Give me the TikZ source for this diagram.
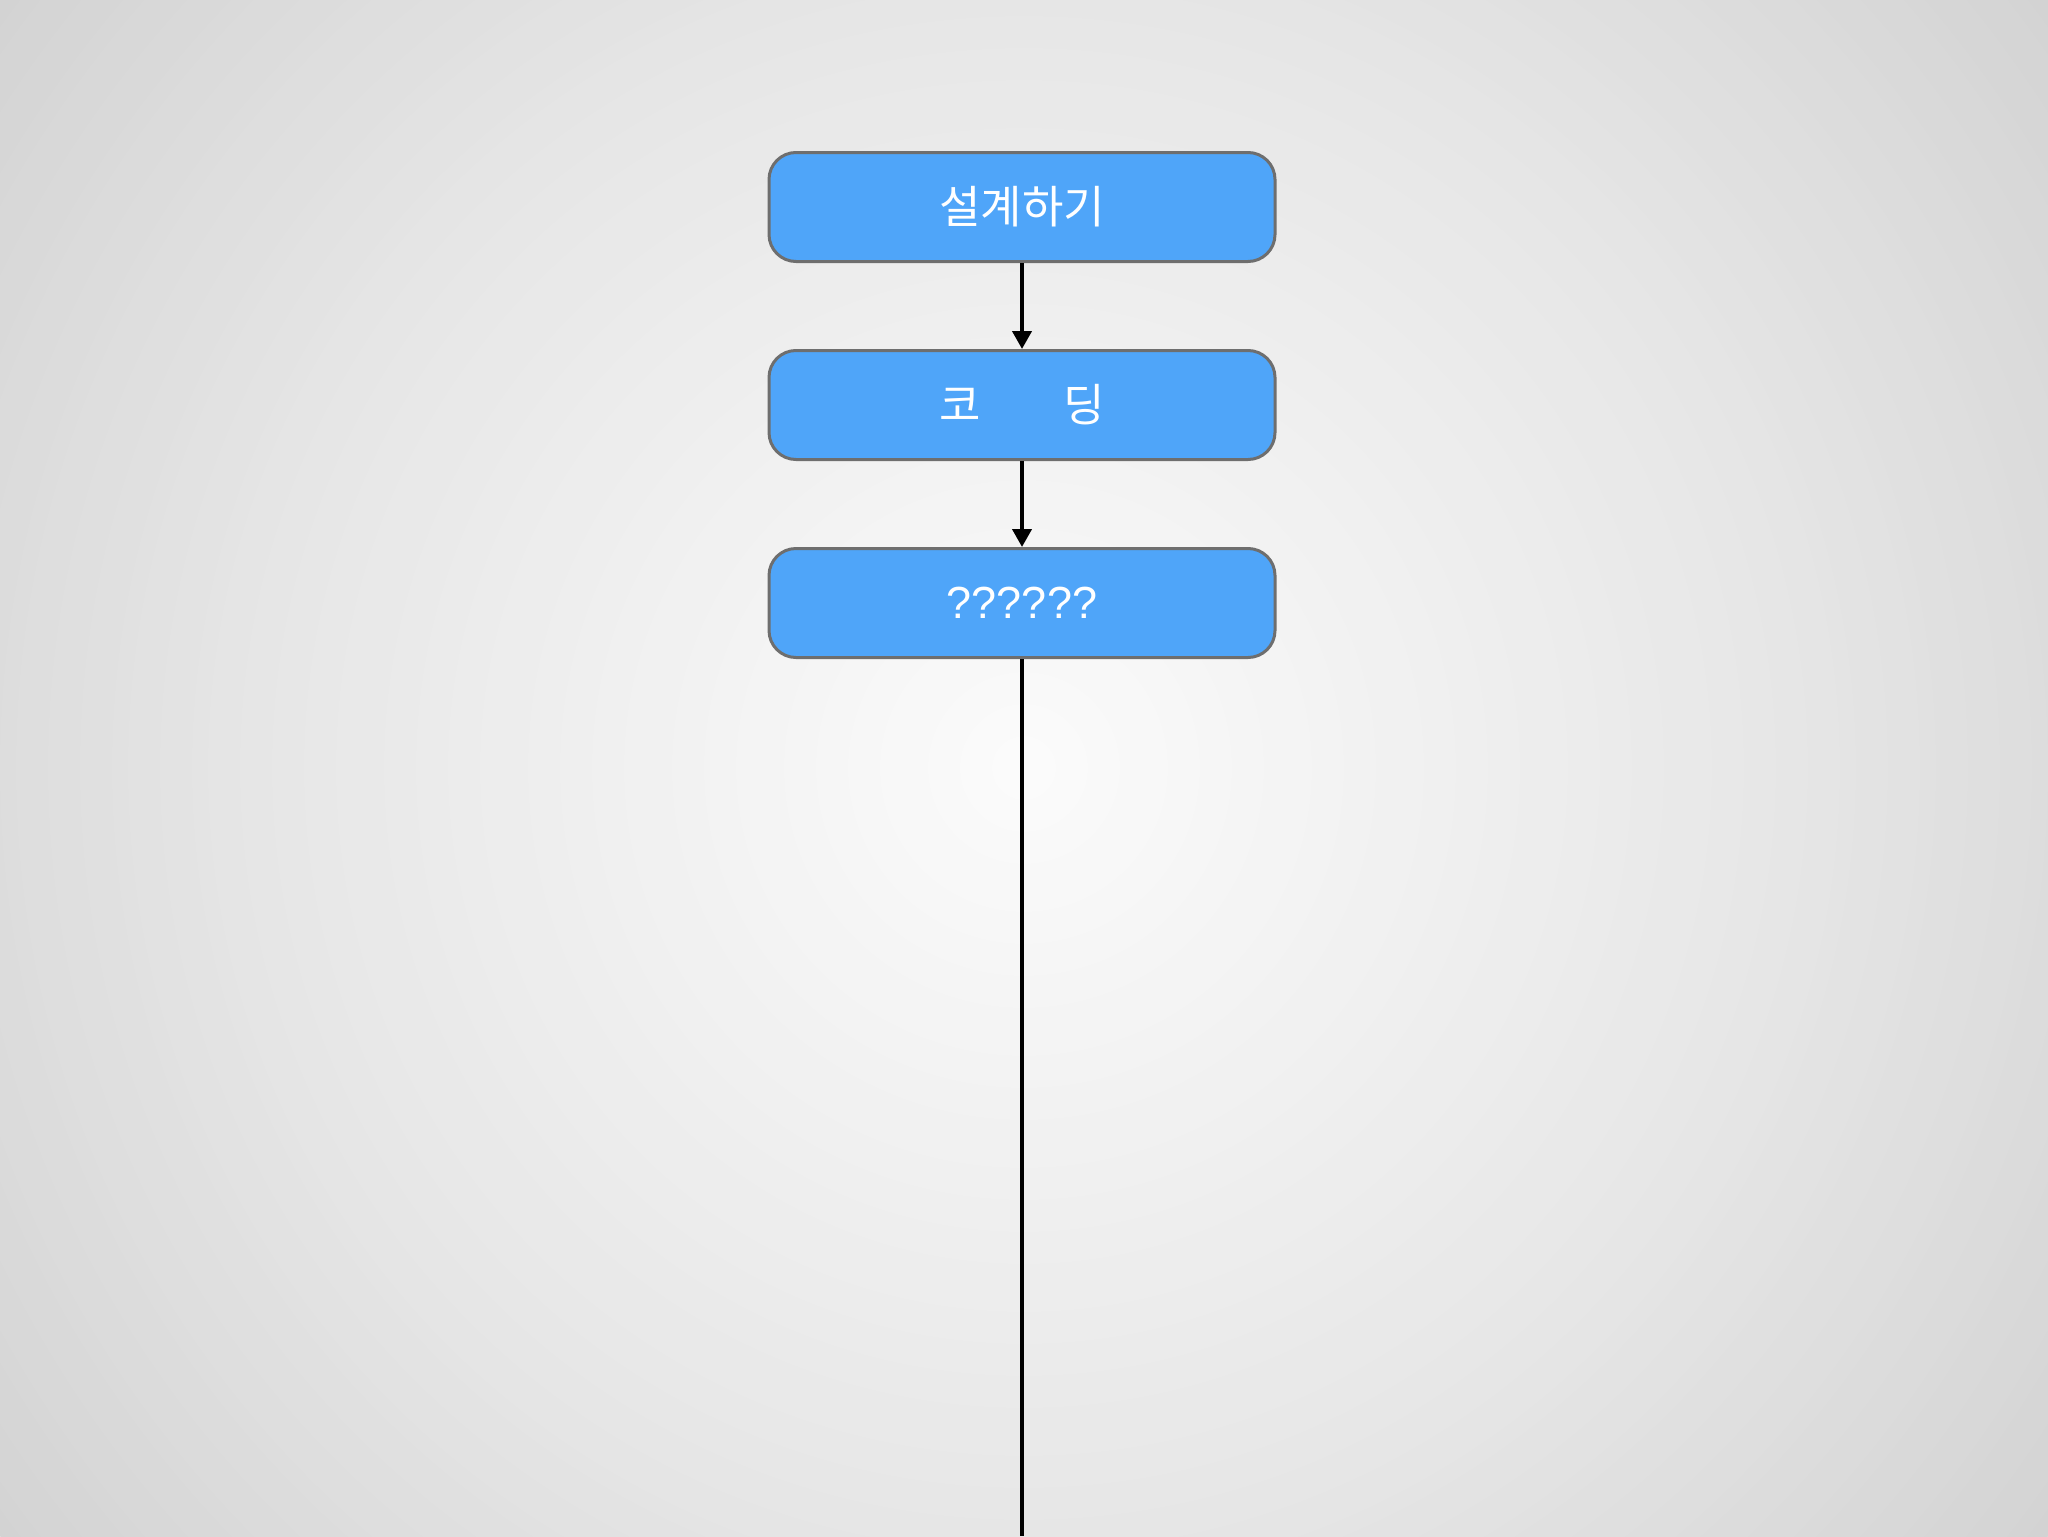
\documentclass[tikz,border=0pt]{standalone}
\usepackage{fontspec}
\newfontfamily\krfont{Noto Sans CJK KR}
\newfontfamily\qfont{Liberation Sans}
\usetikzlibrary{positioning,arrows.meta}
\definecolor{boxblue}{HTML}{4FA5F9}
\definecolor{boxline}{HTML}{6E6E6E}
\begin{document}
\begin{tikzpicture}[x=1pt, y=1pt, node distance=43pt,
  stepbox/.style = {shape=rectangle, rounded corners=13.5pt,
    draw=boxline, line width=1.5pt, fill=boxblue,
    minimum width=253pt, minimum height=54.5pt,
    font=\krfont\fontsize{22.5}{26}\selectfont, text=white},
  flow/.style = {line width=2pt, -{Triangle[length=9pt, width=9.5pt]}}]
  \useasboundingbox (0,0) rectangle (1024,-768);
  % background: rings from grey edge to white centre
  \begin{scope}
    \clip (0,0) rectangle (1024,-768);
    \foreach \r in {640,632,...,8} {
      \pgfmathtruncatemacro\g{\r<384 ? 252-0.055*\r : 230.9-0.074*(\r-384)}
      \definecolor{ring}{RGB}{\g,\g,\g}
      \fill[ring] (512,-384) circle (\r);
    }
  \end{scope}
  \node[stepbox] (design) at (511,-103.5) {설계하기};
  \node[stepbox, below=of design] (coding) {코\hspace{1.84em}딩};
  \node[stepbox, below=of coding] (unknown) {\qfont ??????};
  \coordinate (bottom) at (511,-768);
  \draw[flow] (design) -- (coding);
  \draw[flow] (coding) -- (unknown);
  \draw[line width=2pt] (unknown) -- (bottom);
\end{tikzpicture}
\end{document}
